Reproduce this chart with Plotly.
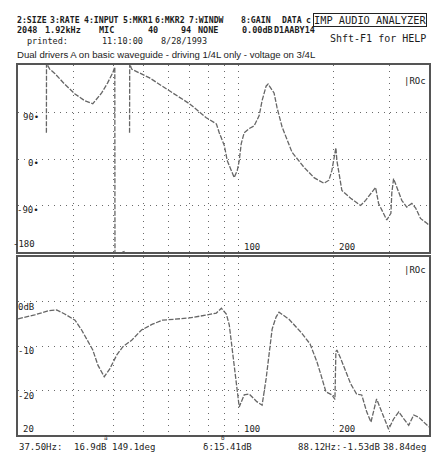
import numpy as np
import plotly.graph_objects as go

# ---------------- data ----------------
phase_freq = [24.6, 24.62, 25.2, 26.2, 28.1, 30.3, 32.5, 34.5, 36.8, 38.4, 39.9, 40.5, 40.55, 43.5,
              None,
              45.1, 45.15, 45.8, 52.2, 60.3, 69.8, 78.9, 84.9, 86.7, 90.0, 91.9, 94.7, 96.7, 98.9,
              100.3, 101.8, 104.0, 107.9, 111.8, 116.0, 118.5, 122.0, 123.8, 129.3, 132.2, 137.1,
              147.4, 160.8, 173, 186, 192.9, 197.1, 200, 202.9, 204.4, 207.4, 212, 226, 243, 252,
              262, 271, 277, 288, 294, 303, 305, 309, 316, 328, 340, 353, 363, 376, 393, 400]
phase_deg = [51, 185, 174, 165, 145, 126, 113, 107, 128, 147, 167, 178, -186, -179,
             None,
             51, 185, 174, 157, 132, 107, 80, 68, 51, 26, -3, -22, -36, -22,
             -3, 30, 51, 59, 64, 84, 113, 141, 145, 128, 99, 62,
             13, -16, -36, -47, -41, -22, 3, 22, -3, -28, -61, -76, -90, -80,
             -66, -55, -86, -109, -118, -105, -66, -38, -55, -80, -93, -86, -95, -115, -124, -128]

mag_freq = [20.0, 22.6, 24.9, 26.5, 28.1, 30.3, 31.8, 33.7, 34.5, 35.8, 37.5, 39.0, 41.1, 42.9,
            45.8, 49.2, 53.3, 57.3, 63.5, 69.8, 79.5, 84.9, 88.1, 91.3, 93.3, 95.4, 97.5, 98.9,
            100.3, 104.0, 107.9, 114.0, 118.5, 122.0, 124.7, 127.5, 131.2, 134.1, 144.2, 157.3,
            168, 176.8, 182, 188.7, 197.1, 201.5, 202.9, 204.4, 210.4, 218, 226, 236, 245, 254,
            262, 273, 281, 288, 298, 309, 321, 333, 345, 358, 371, 385, 400]
mag_db = [-3.9, -3.0, -2.1, -1.9, -2.8, -4.2, -6.4, -9.8, -10.9, -14.3, -16.9, -15.2, -12.0, -10.2,
          -8.7, -6.4, -5.1, -4.2, -3.9, -3.7, -3.0, -2.6, -1.53, -2.8, -5.3, -10.7, -15.8, -20.3,
          -23.7, -21.0, -20.8, -22.5, -23.3, -17.4, -11.3, -6.2, -3.5, -2.4, -4.0, -6.9,
          -9.5, -13.6, -16.5, -20.3, -21.0, -22.0, -11.3, -10.9, -12.9, -15.8, -18.5, -20.8, -21.0, -24.8,
          -27.1, -21.9, -24.2, -26.4, -28.7, -26.4, -24.8, -26.4, -27.8, -25.5, -26.0, -27.1, -28.2]

grid_freqs = [30, 40, 50, 60, 70, 80, 90, 100, 200, 300]
freq_labels = [100, 200]
freq_labels_low = [20, 100, 200]
phase_ticks = [90, 0, -90]
phase_ticktext = ["90\u2022", "0\u2022", "-90\u2022"]
mag_ticks = [0, -10, -20]
mag_ticktext = ["0dB", "-10", "-20"]

header1 = [("2:SIZE", 15), ("3:RATE", 48), ("4:INPUT", 82), ("5:MKR1", 121), ("6:MKR2", 154),
           ("7:WINDW", 188), ("8:GAIN", 240), ("DATA", 281), ("c", 305)]
header2 = [("2048", 15), ("1.92kHz", 43), ("MIC", 97), ("40", 147), ("94", 180), ("NONE", 197),
           ("0.00dB", 241), ("D1AABY14", 273)]
header3 = [("printed:", 25), ("11:10:00", 100), ("8/28/1993", 160)]
title_line = "Dual drivers A on basic waveguide - driving 1/4L only - voltage on 3/4L"
readout = [("37.50Hz:", 17), ("16.9dB", 72), ("149.1deg", 110), ("\u03b4:15.41dB", 202),
           ("88.12Hz:", 297), ("-1.53dB", 342), ("38.84deg", 383)]

# ---------------- layout helpers ----------------
W, H = 433, 464
ML, MR, MT, MB = 18, 2, 65, 29
PW, PH = W - ML - MR, H - MT - MB


def px(x):
    return (x - ML) / PW


def py(y):
    return (H - MB - y) / PH


TXT = "#1c1c1c"
MONO = "DejaVu Sans Mono"
SANS = "Liberation Sans"
LINE = "#666666"

fig = go.Figure()
fig.add_trace(go.Scatter(x=phase_freq, y=phase_deg, mode="lines", xaxis="x", yaxis="y",
                         line=dict(color=LINE, width=1.3, dash="5px,1.5px"), connectgaps=False,
                         hoverinfo="skip"))
fig.add_trace(go.Scatter(x=mag_freq, y=mag_db, mode="lines", xaxis="x2", yaxis="y2",
                         line=dict(color=LINE, width=1.3, dash="5px,1.5px"), hoverinfo="skip"))

top_dom = [py(252), 1.0]
low_dom = [0.0, py(257)]

xcommon = dict(type="log", range=[np.log10(20), np.log10(400)], tickvals=grid_freqs,
               showticklabels=False, ticks="", showgrid=True, gridcolor="#6a6a6a",
               griddash="1px,5px", gridwidth=1.2, zeroline=False, showline=True,
               linecolor="#555", linewidth=1.5, mirror=True)
ycommon = dict(showticklabels=False, ticks="", showgrid=True, gridcolor="#6a6a6a",
               griddash="1px,5px", gridwidth=1.2, zeroline=False, showline=True,
               linecolor="#555", linewidth=1.5, mirror=True)

fig.update_layout(
    width=W, height=H, margin=dict(l=ML, r=MR, t=MT, b=MB),
    paper_bgcolor="white", plot_bgcolor="white", showlegend=False,
    xaxis=dict(domain=[0, 1], anchor="y", **xcommon),
    yaxis=dict(domain=top_dom, anchor="x", range=[-180, 182], tickvals=phase_ticks, **ycommon),
    xaxis2=dict(domain=[0, 1], anchor="y2", **xcommon),
    yaxis2=dict(domain=low_dom, anchor="x2", range=[-30, 10], tickvals=mag_ticks, **ycommon),
)

ann = []


def txt(t, x, y, size=8.5, family=MONO, xanchor="left", weight="bold", **kw):
    ann.append(dict(text=t, x=px(x), y=py(y), xref="paper", yref="paper", showarrow=False,
                    xanchor=xanchor, yanchor="middle",
                    font=dict(family=family, size=size, color=TXT, weight=weight), **kw))


for t, x in header1:
    txt(t, x, 20, size=8.2)
txt("IMP AUDIO ANALYZER", 314, 20, size=10.3, weight="normal", bordercolor="#222", borderwidth=1, borderpad=0)
for t, x in header2:
    txt(t, x, 30)
for t, x in header3:
    txt(t, x, 41, weight="normal")
txt("Shft-F1 for HELP", 330, 38, size=10, weight="normal")
txt(title_line, 15, 54, size=9.6, family=SANS, weight="normal")
for t, x in readout:
    txt(t, x, 447, size=9, weight="normal")
txt("\u00e4", 102, 438, size=6, weight="normal")
txt("\u03b4", 220, 438, size=6, weight="normal")

# panel tags
txt("|ROc", 430, 81, size=9, xanchor="right", weight="normal")
txt("|ROc", 430, 270, size=9, xanchor="right", weight="normal")

LBL = dict(family=MONO, size=9, color=TXT)
# y labels inside plot
for v, t in zip(phase_ticks, phase_ticktext):
    ann.append(dict(text=t, x=px(41), y=v, xref="paper", yref="y", yshift=-4, showarrow=False,
                    xanchor="right", yanchor="middle", font=LBL))
ann.append(dict(text="-180", x=px(37), y=-180, xref="paper", yref="y", yshift=8, showarrow=False,
                xanchor="right", yanchor="middle", font=LBL))
for v, t in zip(mag_ticks, mag_ticktext):
    ann.append(dict(text=t, x=px(36), y=v, xref="paper", yref="y2", yshift=-5, showarrow=False,
                    xanchor="right", yanchor="middle", font=LBL))

# x labels inside plot
for f in freq_labels:
    ann.append(dict(text=str(f), x=np.log10(f), y=py(247), xref="x", yref="paper", xshift=3,
                    showarrow=False, xanchor="left", yanchor="middle", font=LBL))
for f in freq_labels_low:
    ann.append(dict(text=str(f), x=np.log10(f), y=py(429), xref="x2", yref="paper", xshift=3,
                    showarrow=False, xanchor="left", yanchor="middle", font=LBL))

fig.update_layout(annotations=ann)
fig.write_html("out.html", config={"displayModeBar": False},
               post_script="document.body.style.margin='0px';document.body.style.overflow='hidden';")
